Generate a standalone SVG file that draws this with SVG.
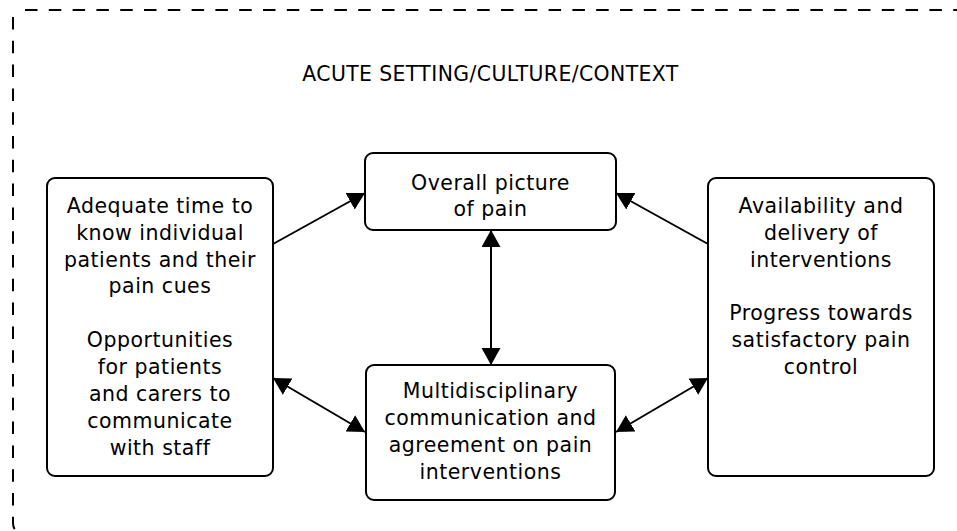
<svg xmlns="http://www.w3.org/2000/svg" width="957" height="531" viewBox="0 0 957 531">
<style>
  .box { fill: #ffffff; stroke: #000000; stroke-width: 2; }
  .t { font-family: "DejaVu Sans", "Noto Sans", sans-serif; font-size: 20.5px; letter-spacing: 0.5px; fill: #000000; text-anchor: middle; }
  .title { font-size: 20.4px; letter-spacing: 0.4px; }
  .border { fill: none; stroke: #000000; stroke-width: 2; stroke-dasharray: 12.5 11.3; }
  .conn { stroke: #000000; stroke-width: 2; fill: none; }
</style>
<defs>
  <marker id="ah" markerUnits="userSpaceOnUse" markerWidth="18" markerHeight="20" refX="17" refY="9.5" orient="auto-start-reverse" viewBox="0 0 18 20">
    <path d="M0,0 L17,9.5 L0,19 Z" fill="#000000"/>
  </marker>
</defs>
<rect width="957" height="531" fill="#ffffff"/>
<g id="context">
  <path class="border" d="M25,10 H970"/>
  <path class="border" d="M13,17 V523 Q13,532 22,532 H970"/>
  <text class="t title" x="490.5" y="81">ACUTE SETTING/CULTURE/CONTEXT</text>
</g>
<g id="connectors">
  <line class="conn" x1="273" y1="244" x2="365" y2="193" marker-end="url(#ah)"/>
  <line class="conn" x1="708" y1="244" x2="616" y2="193" marker-end="url(#ah)"/>
  <line class="conn" x1="491" y1="230" x2="491" y2="365" marker-start="url(#ah)" marker-end="url(#ah)"/>
  <line class="conn" x1="273" y1="378" x2="365" y2="432" marker-start="url(#ah)" marker-end="url(#ah)"/>
  <line class="conn" x1="616" y1="432" x2="708" y2="378" marker-start="url(#ah)" marker-end="url(#ah)"/>
</g>
<g id="left">
  <rect class="box" x="47" y="178" width="226" height="298" rx="8"/>
  <text class="t" x="160" y="213">Adequate time to</text>
  <text class="t" x="160" y="240">know individual</text>
  <text class="t" x="160" y="266.5">patients and their</text>
  <text class="t" x="160" y="293">pain cues</text>
  <text class="t" x="160" y="347">Opportunities</text>
  <text class="t" x="160" y="374">for patients</text>
  <text class="t" x="160" y="401">and carers to</text>
  <text class="t" x="160" y="428">communicate</text>
  <text class="t" x="160" y="455">with staff</text>
</g>
<g id="top">
  <rect class="box" x="365" y="153" width="251" height="77" rx="8"/>
  <text class="t" x="490.5" y="189.5">Overall picture</text>
  <text class="t" x="490.5" y="216">of pain</text>
</g>
<g id="bottom">
  <rect class="box" x="366" y="365" width="249" height="135" rx="8"/>
  <text class="t" x="490.5" y="398">Multidisciplinary</text>
  <text class="t" x="490.5" y="425">communication and</text>
  <text class="t" x="490.5" y="452">agreement on pain</text>
  <text class="t" x="490.5" y="479">interventions</text>
</g>
<g id="right">
  <rect class="box" x="708" y="178" width="226" height="298" rx="8"/>
  <text class="t" x="821" y="213">Availability and</text>
  <text class="t" x="821" y="240">delivery of</text>
  <text class="t" x="821" y="266.5">interventions</text>
  <text class="t" x="821" y="320">Progress towards</text>
  <text class="t" x="821" y="347">satisfactory pain</text>
  <text class="t" x="821" y="374">control</text>
</g>
</svg>
